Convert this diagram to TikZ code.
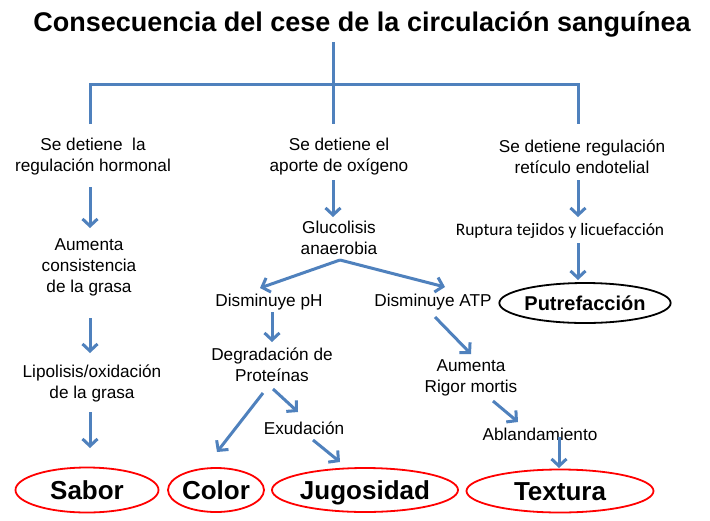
\documentclass[tikz,border=0pt]{standalone}
\usepackage{fontspec}
\setmainfont{Liberation Sans}
\newfontfamily\calfont{Carlito}
\usetikzlibrary{arrows.meta,shapes.geometric}
\definecolor{ablue}{RGB}{79,129,189}
\begin{document}
\begin{tikzpicture}[x=1pt,y=-1pt,
  txt/.style={align=center,inner sep=0pt,font=\fontsize{17.2}{21}\selectfont},
  arr/.style={draw=ablue,line width=3pt,-{Straight Barb[length=7pt,width=15pt]}},
  treeline/.style={draw=ablue,line width=3pt},
  oval/.style={ellipse,draw=red,line width=1.8pt,inner sep=0pt,text height=18.6pt,text depth=0pt,font=\fontsize{26}{30}\selectfont\bfseries},
  blackoval/.style={ellipse,draw=black,line width=1.8pt,inner sep=0pt,text height=14.3pt,text depth=0pt,font=\fontsize{20}{24}\selectfont\bfseries}]
\useasboundingbox[fill=white] (0,0) rectangle (710,520);

% title
\node[inner sep=0pt,text height=19.3pt,text depth=0pt,font=\fontsize{27}{32}\selectfont\bfseries] (t) at (362,22) {Consecuencia del cese de la circulación sanguínea};

% tree
\coordinate (c0) at (333,42);
\coordinate (c1) at (333,124);
\coordinate (cl) at (90,124);
\coordinate (cr) at (578,124);
\draw[treeline] (c0) -- (c1);
\draw[treeline,line join=miter] (cl) |- (cr |- 0,84) -- (cr);

% text nodes
\node[txt] (h1) at (93,157) {Se detiene\ \ la\\regulación hormonal};
\node[txt] (h2) at (339,157) {Se detiene el\\aporte de oxígeno};
\node[txt] (h3) at (582,157) {Se detiene regulación\\retículo endotelial};
\node[txt] (a1) at (89,267) {Aumenta\\consistencia\\de la grasa};
\node[txt] (g) at (339,238) {Glucolisis\\anaerobia};
\node[txt,font=\calfont\fontsize{17.5}{21}\selectfont] (r) at (560,231) {Ruptura tejidos y licuefacción};
\node[blackoval,minimum width=164pt,minimum height=40pt] (p) at (585,303) {Putrefacción};
\node[txt] (dph) at (269,302) {Disminuye pH};
\node[txt] (datp) at (433,302) {Disminuye ATP};
\node[txt] (lip) at (92,383) {Lipolisis/oxidación\\de la grasa};
\node[txt] (deg) at (272,365) {Degradación de\\Proteínas};
\node[txt] (ex) at (304,428) {Exudación};
\node[txt] (rig) at (471,378) {Aumenta\\Rigor mortis};
\node[txt] (abl) at (540,434) {Ablandamiento};

% result ovals
\node[oval,minimum width=143pt,minimum height=45pt] (sab) at (87,490) {Sabor};
\node[oval,minimum width=94pt,minimum height=44pt] (col) at (216,490) {Color};
\node[oval,minimum width=186pt,minimum height=44pt] (jug) at (365,490) {Jugosidad};
\node[oval,minimum width=187pt,minimum height=43pt] (tex) at (560,491) {Textura};

% arrow end points
\coordinate (s1) at (90,187);   \coordinate (e1) at (90,228);
\coordinate (s2) at (333,180);  \coordinate (e2) at (333,217);
\coordinate (s3) at (578,180);  \coordinate (e3) at (578,217);
\coordinate (s4) at (578,243);  \coordinate (e4) at (578,280);
\coordinate (apex) at (340,260);
\coordinate (e5) at (260,288);  \coordinate (e6) at (445,287);
\coordinate (s7) at (90,318);   \coordinate (e7) at (90,353);
\coordinate (s8) at (272,312);  \coordinate (e8) at (272,342);
\coordinate (s9) at (90,412);   \coordinate (e9) at (90,448);
\coordinate (s10) at (263,393); \coordinate (e10) at (217,452);
\coordinate (s11) at (273,389); \coordinate (e11) at (298,412);
\coordinate (s12) at (313,440); \coordinate (e12) at (340,462);
\coordinate (s13) at (435,317); \coordinate (e13) at (471,354);
\coordinate (s14) at (493,401); \coordinate (e14) at (518,422);
\coordinate (s15) at (559,437); \coordinate (e15) at (559,468);

\draw[arr] (s1) -- (e1);
\draw[arr] (s2) -- (e2);
\draw[arr] (s3) -- (e3);
\draw[arr] (s4) -- (e4);
\draw[arr] (apex) -- (e5);
\draw[arr] (apex) -- (e6);
\draw[arr] (s7) -- (e7);
\draw[arr] (s8) -- (e8);
\draw[arr] (s9) -- (e9);
\draw[arr] (s10) -- (e10);
\draw[arr] (s11) -- (e11);
\draw[arr] (s12) -- (e12);
\draw[arr] (s13) -- (e13);
\draw[arr] (s14) -- (e14);
\draw[arr] (s15) -- (e15);
\end{tikzpicture}
\end{document}
